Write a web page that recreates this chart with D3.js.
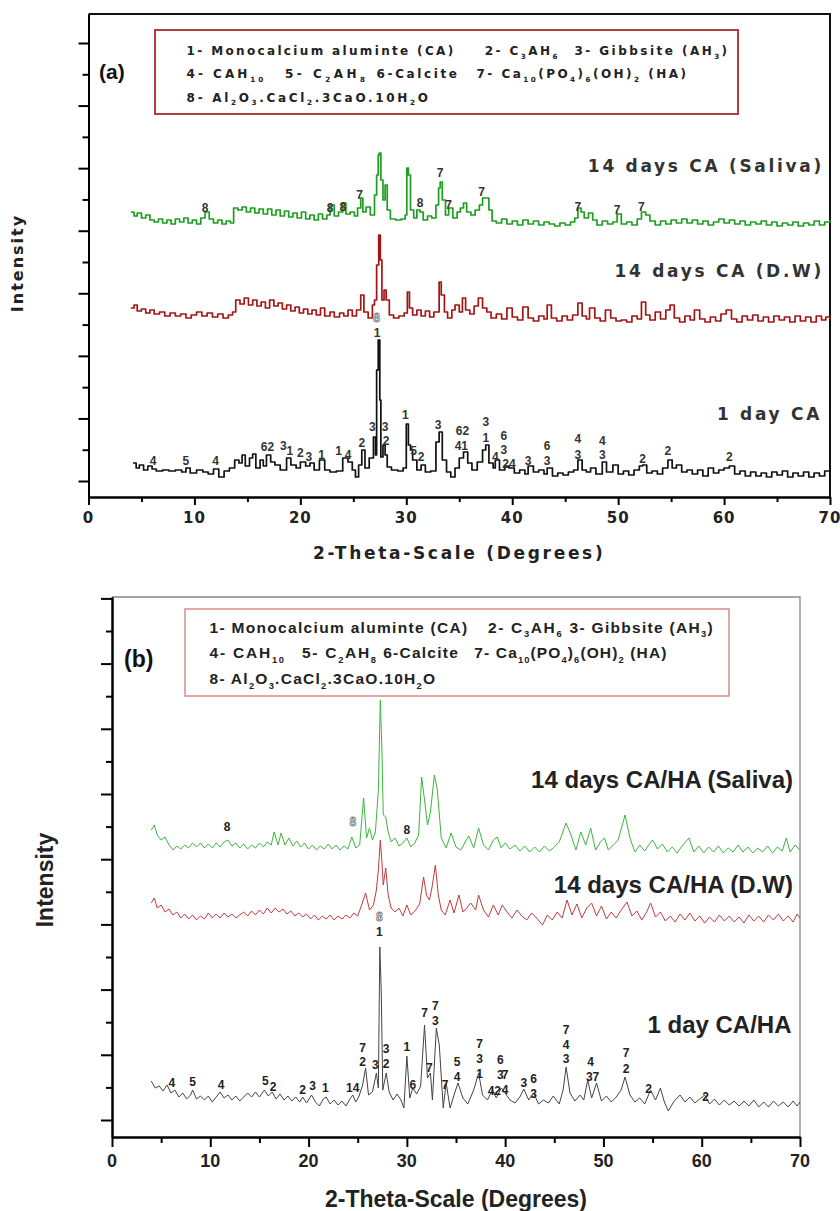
<!DOCTYPE html>
<html>
<head>
<meta charset="utf-8">
<script src="https://cdn.jsdelivr.net/npm/d3@7"></script>
<style>
  body { margin: 0; background: #fff; }
  svg { display: block; }
</style>
</head>
<body>
<svg id="chart" width="840" height="1211"></svg>
<script>
// ---- data: [2-theta (deg), intensity (a.u.)] ----

var TWO_THETA_TICKS = [0, 10, 20, 30, 40, 50, 60, 70];

var LEGEND_ITEMS = [
  ["1- Monocalcium aluminte (CA)", "2- C_{3}AH_{6}", "3- Gibbsite (AH_{3})"],
  ["4- CAH_{10}", "5- C_{2}AH_{8}", "6-Calcite", "7- Ca_{10}(PO_{4})_{6}(OH)_{2} (HA)"],
  ["8- Al_{2}O_{3}.CaCl_{2}.3CaO.10H_{2}O"]
];

var NAMES_A = ["1 day CA", "14 days CA (D.W)", "14 days CA (Saliva)"];
var NAMES_B = ["1 day CA/HA", "14 days CA/HA (D.W)", "14 days CA/HA (Saliva)"];

var CA_1DAY = [
  [4.2,180],[4.5,130],[4.8,160],[5.2,110],[5.6,150],[6.0,120],[6.4,100],[7.0,110],[7.6,100],[8.2,110],
  [8.8,90],[9.2,130],[9.6,80],[10.2,110],[10.8,90],[11.3,70],[11.8,120],[12.3,40],[12.8,100],[13.3,130],
  [13.8,210],[14.2,180],[14.5,260],[14.8,150],[15.2,230],[15.5,270],[15.8,130],[16.2,210],[16.5,150],[16.8,260],
  [17.2,190],[17.6,160],[18.1,110],[18.7,230],[19.1,160],[19.6,130],[20.0,190],[20.5,150],[20.9,180],[21.3,110],
  [21.8,210],[22.3,110],[22.8,90],[23.4,100],[24.0,230],[24.5,190],[24.9,110],[25.2,40],[25.5,160],[25.8,310],
  [26.1,130],[26.5,230],[26.9,440],[27.1,260],[27.2,1110],[27.35,1410],[27.5,810],[27.6,240],[27.8,360],[28.0,260],
  [28.2,140],[28.6,110],[29.2,100],[29.7,130],[30.0,570],[30.2,360],[30.4,310],[30.6,210],[31.0,110],[31.4,160],
  [31.8,90],[32.3,100],[32.8,390],[33.1,490],[33.4,210],[33.8,90],[34.2,40],[34.6,130],[35.0,230],[35.4,290],
  [35.8,180],[36.2,110],[36.7,190],[37.2,310],[37.5,360],[37.8,180],[38.2,130],[38.4,210],[38.8,110],[39.3,150],
  [39.7,130],[40.2,80],[40.7,110],[41.2,70],[41.5,150],[42.0,90],[42.5,110],[43.0,70],[43.3,130],[43.8,50],
  [44.3,80],[44.8,60],[45.3,90],[45.8,110],[46.2,210],[46.6,110],[47.0,90],[47.4,130],[47.9,70],[48.5,190],
  [48.9,90],[49.5,160],[50.0,70],[50.5,100],[51.0,60],[51.5,110],[52.0,150],[52.3,160],[52.7,80],[53.2,100],
  [53.7,70],[54.2,130],[54.7,210],[55.1,130],[55.5,160],[56.0,90],[56.5,110],[57.0,70],[57.5,110],[58.0,50],
  [58.5,130],[59.0,80],[59.5,110],[60.0,130],[60.5,150],[61.0,70],[61.5,100],[62.0,50],[62.5,90],[63.0,50],
  [63.5,80],[64.0,40],[64.5,90],[65.0,60],[65.5,100],[66.0,40],[66.5,80],[67.0,50],[67.5,90],[68.0,40],
  [68.5,80],[69.0,50],[69.5,100],[70.0,60]
];

var CA_14D_DW = [
  [4.0,230],[4.3,260],[4.6,200],[5.0,220],[5.4,180],[5.8,210],[6.2,170],[6.7,190],[7.2,150],[7.7,180],
  [8.2,150],[8.7,170],[9.2,130],[9.7,160],[10.2,190],[10.7,150],[11.2,180],[11.7,140],[12.2,170],[12.7,130],
  [13.2,160],[13.6,190],[13.9,310],[14.3,270],[14.7,330],[15.1,260],[15.5,310],[15.9,250],[16.3,290],[16.7,230],
  [17.1,310],[17.5,250],[17.9,280],[18.3,220],[18.7,260],[19.1,200],[19.5,240],[19.9,180],[20.3,220],[20.7,170],
  [21.1,210],[21.5,160],[21.9,230],[22.3,150],[22.8,190],[23.2,140],[23.7,180],[24.1,150],[24.5,210],[24.9,150],
  [25.3,210],[25.7,360],[26.0,190],[26.4,130],[26.8,260],[27.0,310],[27.2,660],[27.4,960],[27.55,710],[27.7,310],
  [27.9,410],[28.1,310],[28.4,160],[28.8,130],[29.3,150],[29.8,180],[30.1,390],[30.3,230],[30.6,160],[31.0,210],
  [31.4,150],[31.8,200],[32.2,140],[32.6,190],[33.1,490],[33.3,360],[33.6,190],[33.9,130],[34.3,210],[34.6,260],
  [35.0,190],[35.3,330],[35.6,210],[36.0,170],[36.4,250],[36.8,330],[37.2,230],[37.6,190],[38.0,130],[38.5,170],
  [39.0,120],[39.5,230],[40.0,140],[40.5,110],[41.0,240],[41.5,130],[42.0,100],[42.5,150],[43.0,120],[43.3,260],
  [43.7,130],[44.2,100],[44.7,150],[45.2,110],[45.7,160],[46.2,280],[46.6,150],[47.0,120],[47.3,230],[47.8,130],
  [48.3,100],[48.8,210],[49.3,130],[49.8,100],[50.3,110],[50.8,90],[51.3,150],[51.8,120],[52.2,290],[52.6,160],
  [53.0,110],[53.5,190],[54.0,120],[54.5,210],[54.9,260],[55.3,130],[55.8,90],[56.3,150],[56.8,110],[57.2,210],
  [57.7,120],[58.2,90],[58.7,140],[59.2,100],[59.7,170],[60.2,210],[60.7,120],[61.2,90],[61.7,150],[62.2,110],
  [62.7,160],[63.2,100],[63.7,140],[64.2,90],[64.7,150],[65.2,110],[65.7,140],[66.2,90],[66.7,150],[67.2,100],
  [67.7,140],[68.2,90],[68.7,150],[69.2,110],[69.6,140],[70.0,120]
];

var CA_14D_SALIVA = [
  [4.0,240],[4.3,200],[4.6,230],[5.0,180],[5.4,210],[5.8,160],[6.2,140],[6.6,170],[7.0,130],[7.4,160],
  [7.8,120],[8.2,170],[8.6,140],[9.0,180],[9.4,130],[9.8,160],[10.2,120],[10.6,180],[11.0,240],[11.4,170],
  [11.8,130],[12.2,160],[12.6,120],[13.0,150],[13.4,130],[13.7,280],[14.1,260],[14.5,290],[14.9,240],[15.3,280],
  [15.7,230],[16.1,270],[16.5,220],[16.9,270],[17.3,210],[17.7,260],[18.1,200],[18.5,250],[18.9,190],[19.3,230],
  [19.7,180],[20.1,240],[20.5,170],[20.9,210],[21.3,160],[21.7,220],[22.1,170],[22.5,210],[22.8,310],[23.2,200],
  [23.6,240],[24.0,330],[24.3,220],[24.7,240],[25.1,200],[25.4,280],[25.7,380],[25.9,240],[26.2,290],[26.6,210],
  [27.0,410],[27.2,610],[27.35,810],[27.45,830],[27.6,560],[27.8,360],[28.0,510],[28.2,260],[28.5,170],[29.0,160],
  [29.5,170],[29.9,210],[30.05,680],[30.2,610],[30.4,260],[30.7,180],[31.0,260],[31.3,240],[31.6,160],[32.0,200],
  [32.4,180],[32.8,310],[33.05,480],[33.2,540],[33.4,360],[33.7,210],[34.0,280],[34.4,180],[34.8,240],[35.1,280],
  [35.4,330],[35.7,240],[36.1,210],[36.5,260],[36.9,310],[37.2,380],[37.5,380],[37.8,260],[38.1,150],[38.5,130],
  [39.0,170],[39.5,120],[40.0,150],[40.5,110],[41.0,160],[41.5,120],[42.0,150],[42.5,110],[43.0,140],[43.5,120],
  [44.0,100],[44.5,130],[45.0,110],[45.5,140],[45.9,180],[46.2,280],[46.5,240],[46.8,180],[47.2,230],[47.6,160],
  [48.0,110],[48.5,150],[49.0,120],[49.5,140],[49.9,220],[50.3,120],[50.8,140],[51.3,110],[51.8,170],[52.2,240],
  [52.6,210],[53.0,150],[53.5,110],[54.0,150],[54.5,120],[55.0,160],[55.5,130],[56.0,170],[56.5,130],[57.0,160],
  [57.5,120],[58.0,150],[58.5,110],[59.0,140],[59.5,170],[60.0,130],[60.5,160],[61.0,120],[61.5,150],[62.0,110],
  [62.5,140],[63.0,120],[63.5,150],[64.0,110],[64.5,140],[65.0,100],[65.5,130],[66.0,110],[66.5,140],[67.0,100],
  [67.5,130],[68.0,110],[68.5,150],[69.0,110],[69.5,140],[70.0,160]
];

var CAHA_1DAY = [
  [4.0,390],[4.4,320],[4.8,340],[5.2,290],[5.6,350],[6.0,270],[6.4,300],[6.8,230],[7.2,270],[7.6,210],
  [8.0,250],[8.2,300],[8.6,210],[9.0,240],[9.4,200],[9.8,240],[10.2,180],[10.6,230],[11.0,280],[11.4,220],
  [11.8,250],[12.2,200],[12.6,240],[13.0,190],[13.4,230],[13.8,270],[14.2,230],[14.6,280],[15.0,230],[15.5,300],
  [15.9,240],[16.3,280],[16.7,210],[17.1,260],[17.5,200],[17.9,240],[18.3,190],[18.7,230],[19.1,180],[19.4,230],
  [19.8,170],[20.3,250],[20.7,180],[21.1,140],[21.5,210],[21.8,230],[22.2,160],[22.6,200],[23.0,150],[23.4,190],
  [23.8,140],[24.2,210],[24.5,250],[24.8,180],[25.1,230],[25.5,350],[25.8,520],[26.1,250],[26.5,280],[26.9,470],
  [27.1,320],[27.25,1730],[27.4,1270],[27.55,300],[27.9,470],[28.2,280],[28.6,200],[29.0,260],[29.4,200],[29.7,120],
  [30.0,640],[30.3,220],[30.6,320],[31.0,260],[31.4,340],[31.8,950],[32.1,420],[32.4,470],[32.6,200],[33.0,920],
  [33.3,750],[33.7,120],[34.0,370],[34.4,120],[34.8,250],[35.2,370],[35.7,220],[36.2,160],[36.8,300],[37.3,470],
  [37.7,250],[38.2,200],[38.7,300],[39.1,220],[39.6,320],[40.0,270],[40.5,200],[41.0,170],[41.5,230],[41.9,310],
  [42.4,200],[42.9,270],[43.4,160],[43.9,200],[44.4,170],[44.9,240],[45.5,160],[45.9,300],[46.2,530],[46.6,270],
  [47.1,190],[47.6,250],[48.0,200],[48.4,400],[48.8,220],[49.3,370],[49.8,190],[50.3,240],[50.8,180],[51.3,230],
  [51.8,300],[52.2,430],[52.7,250],[53.2,180],[53.7,220],[54.2,160],[54.8,300],[55.3,200],[55.8,320],[56.2,180],
  [56.6,90],[57.2,190],[57.8,250],[58.3,180],[58.8,230],[59.3,170],[59.8,210],[60.3,250],[60.8,160],[61.3,210],
  [61.8,150],[62.3,200],[62.8,150],[63.3,190],[63.8,140],[64.3,190],[64.8,140],[65.3,200],[65.8,130],[66.3,180],
  [66.8,130],[67.3,190],[67.8,140],[68.3,180],[68.8,130],[69.3,190],[69.7,140],[70.0,180]
];

var CAHA_14D_DW = [
  [4.0,470],[4.3,520],[4.6,420],[5.0,450],[5.4,380],[5.8,410],[6.2,350],[6.6,380],[7.0,320],[7.4,360],
  [7.8,310],[8.2,350],[8.6,300],[9.0,340],[9.4,310],[9.8,370],[10.2,320],[10.6,360],[11.0,320],[11.4,370],
  [11.8,330],[12.2,360],[12.6,320],[13.0,350],[13.4,380],[13.8,340],[14.2,390],[14.6,350],[15.0,400],[15.4,360],
  [15.8,420],[16.2,370],[16.6,420],[17.0,380],[17.4,410],[17.8,360],[18.2,390],[18.6,340],[19.0,370],[19.4,330],
  [19.8,360],[20.2,310],[20.6,350],[21.0,300],[21.4,340],[21.8,310],[22.2,350],[22.6,300],[23.0,340],[23.4,310],
  [23.8,350],[24.2,320],[24.6,370],[25.0,340],[25.4,450],[25.8,570],[26.2,400],[26.6,450],[26.9,600],[27.1,800],
  [27.3,1100],[27.45,900],[27.6,650],[27.85,820],[28.1,550],[28.4,420],[28.8,380],[29.2,420],[29.6,340],[30.0,450],
  [30.4,350],[30.9,400],[31.3,460],[31.7,730],[32.0,550],[32.3,500],[32.55,620],[32.9,850],[33.2,550],[33.5,400],
  [33.9,350],[34.4,500],[34.8,370],[35.3,550],[35.7,380],[36.1,420],[36.5,470],[37.0,400],[37.3,550],[37.8,400],
  [38.3,330],[38.8,450],[39.3,350],[39.7,450],[40.2,380],[40.7,320],[41.2,400],[41.7,340],[42.2,300],[42.7,370],
  [43.2,320],[43.8,250],[44.3,350],[44.8,300],[45.3,380],[45.8,320],[46.3,500],[46.8,350],[47.3,460],[47.8,320],
  [48.3,420],[48.8,470],[49.3,340],[49.8,440],[50.3,310],[50.8,380],[51.3,320],[51.8,400],[52.4,480],[52.9,340],
  [53.4,390],[53.9,300],[54.4,380],[54.8,470],[55.3,330],[55.8,380],[56.3,290],[56.8,340],[57.3,280],[57.8,360],
  [58.3,300],[58.8,370],[59.3,290],[59.8,340],[60.3,270],[60.8,330],[61.3,280],[61.8,350],[62.3,290],[62.8,340],
  [63.3,280],[63.8,330],[64.3,270],[64.8,350],[65.3,290],[65.8,340],[66.3,280],[66.8,350],[67.3,300],[67.8,360],
  [68.3,290],[68.8,340],[69.3,280],[69.7,360],[70.0,320]
];

var CAHA_14D_SALIVA = [
  [4.0,400],[4.3,450],[4.6,350],[5.0,300],[5.4,330],[5.8,250],[6.2,200],[6.6,240],[7.0,210],[7.4,250],
  [7.8,220],[8.2,270],[8.6,230],[9.0,270],[9.4,220],[9.8,260],[10.2,220],[10.6,270],[11.0,230],[11.4,280],
  [11.8,300],[12.2,240],[12.6,270],[13.0,220],[13.4,260],[13.8,210],[14.2,250],[14.6,220],[15.0,270],[15.4,230],
  [15.8,280],[16.2,250],[16.5,380],[16.9,250],[17.2,370],[17.6,250],[18.0,320],[18.4,240],[18.8,290],[19.2,230],
  [19.6,270],[20.0,210],[20.4,250],[20.8,200],[21.2,240],[21.6,210],[22.0,260],[22.4,210],[22.8,250],[23.2,200],
  [23.6,240],[24.0,210],[24.4,330],[24.8,220],[25.2,250],[25.6,720],[25.9,320],[26.2,420],[26.5,300],[26.8,380],
  [27.1,800],[27.3,1700],[27.45,1250],[27.6,550],[27.85,530],[28.1,380],[28.4,280],[28.8,320],[29.2,240],[29.6,270],
  [30.0,320],[30.4,230],[30.8,270],[31.2,350],[31.5,930],[31.8,700],[32.1,450],[32.4,580],[32.8,950],[33.1,800],
  [33.5,320],[34.0,220],[34.5,370],[35.0,230],[35.5,200],[36.0,290],[36.3,340],[36.8,220],[37.3,420],[37.8,250],
  [38.3,200],[38.8,300],[39.2,330],[39.6,220],[40.0,270],[40.5,210],[41.0,250],[41.5,190],[42.0,240],[42.5,180],
  [43.0,230],[43.5,180],[44.0,240],[44.5,190],[45.0,230],[45.5,280],[46.2,470],[46.7,350],[47.2,200],[47.7,380],
  [48.2,250],[48.7,420],[49.2,200],[49.7,280],[50.1,320],[50.5,200],[51.0,250],[51.5,300],[52.2,550],[52.7,320],
  [53.2,180],[53.7,250],[54.2,190],[54.6,250],[55.0,300],[55.5,210],[56.0,260],[56.5,180],[57.0,230],[57.5,170],
  [58.0,240],[58.7,320],[59.2,180],[59.7,240],[60.2,170],[60.7,230],[61.2,180],[61.7,240],[62.2,170],[62.7,220],
  [63.2,180],[63.7,250],[64.2,180],[64.7,230],[65.2,170],[65.7,220],[66.2,180],[66.7,240],[67.2,170],[67.7,230],
  [68.2,190],[68.6,320],[69.0,180],[69.5,250],[70.0,200]
];

// peak assignments: [2-theta, level (a.u.), phase numbers, style]
var PEAKS_CA_1DAY = [
  [6.1,200,"4"],[9.2,200,"5"],[12.0,200,"4"],[16.9,340,"62"],[18.4,350,"3"],[19.0,300,"1"],
  [20.0,280,"2"],[20.8,240,"3"],[22.0,260,"1"],[23.6,300,"1"],[24.5,260,"4"],[25.8,380,"2"],
  [26.8,540,"3"],[28.0,540,"3"],[28.1,400,"2"],[27.2,1630,"8","o"],[27.25,1480,"1"],[29.9,660,"1"],
  [30.7,300,"5"],[31.4,240,"2"],[33.0,560,"3"],[35.3,500,"62"],[35.2,350,"41"],
  [37.5,590,"3"],[37.5,430,"1"],[38.4,240,"4"],[39.2,450,"6"],[39.2,310,"3"],[39.7,170,"24"],
  [41.5,200,"3"],[43.3,350,"6"],[43.3,200,"3"],[46.2,420,"4"],[46.2,260,"3"],[48.5,400,"4"],
  [48.5,260,"3"],[52.3,220,"2"],[54.7,300,"2"],[60.5,240,"2"]
];
var PEAKS_CA_14D_SALIVA = [
  [11.0,280,"8"],[22.8,280,"8"],[24.0,290,"8"],[25.6,410,"7"],[31.3,330,"8"],[33.2,630,"7"],
  [34.0,310,"7"],[37.1,440,"7"],[46.2,290,"7"],[49.9,260,"7"],[52.2,290,"7"]
];
var PEAKS_CAHA_1DAY = [
  [6.1,370,"4"],[8.2,380,"5"],[11.1,350,"4"],[15.6,390,"5"],[16.4,330,"2"],[19.4,300,"2"],
  [20.4,340,"3"],[21.7,320,"1"],[24.5,320,"14"],[25.5,720,"7"],[25.5,580,"2"],[26.8,550,"3"],
  [27.9,710,"3"],[27.9,560,"2"],[27.2,2030,"8","o"],[27.2,1880,"1"],[30.0,730,"1"],[30.6,350,"6"],
  [31.8,1070,"7"],[32.9,1140,"7"],[32.9,990,"3"],[32.3,520,"7"],[33.9,350,"7"],[35.1,580,"5"],
  [35.1,430,"4"],[37.4,760,"7"],[37.4,610,"3"],[37.4,460,"1"],[38.9,290,"42"],[39.5,600,"6"],
  [39.5,450,"3"],[40.0,450,"7"],[40.0,300,"4"],[41.9,370,"3"],[42.9,410,"6"],[42.9,260,"3"],
  [46.2,900,"7"],[46.2,755,"4"],[46.2,610,"3"],[48.7,580,"4"],[48.9,430,"37"],[52.3,670,"7"],
  [52.3,515,"2"],[54.6,310,"2"],[60.4,230,"2"]
];
var PEAKS_CAHA_14D_SALIVA = [
  [11.7,430,"8"],[24.5,480,"8","o"],[30.0,400,"8"]
];

// ---- layout ----

var PANEL_A = {
  x0: 88.5, x1: 830, top: 14, bottom: 497,
  yDomain: [-160, 4670], yMajor: 625.7,
  axisWidth: 2, frameColor: "#111", frameWidth: 2,
  xTick: [8, 5], yTick: [10, 6],
  font: "'DejaVu Sans', sans-serif",
  tickFont: 15, tickSpacing: 1, tickBase: 523,
  title: "2-Theta-Scale (Degrees)", titleFont: 17, titleSpacing: 2.7, titleBase: 559,
  yTitleX: 17.5, yTitleY: 263, yTitleFont: 16, yTitleSpacing: 2,
  tag: "(a)", tagX: 99, tagY: 79, tagFont: 21,
  legendBox: [155, 30, 583, 84], legendStroke: "#a82a2a", legendWidth: 1.8,
  legendFont: 12, legendFamily: "'DejaVu Sans', sans-serif", legendBase: [55, 78, 101.5],
  legendX: [[[186.6,453.2],[484.7,557.4],[574.4,727.1]],
            [[186.6,263.2],[285,365],[376.6,457],[476.5,685.9]],
            [[186.6,428]]],
  nameFont: 17, nameSpacing: 2.7, nameColor: "#333",
  curve: d3.curveStepAfter, lineWidth: 1.7,
  peakFont: 12, peakColor: "#333",
  series: [
    {data: CA_1DAY, offset: 0, color: "#111", name: NAMES_A[0], nameX: 822, nameY: 420, peaks: PEAKS_CA_1DAY},
    {data: CA_14D_DW, offset: 1500, color: "#a31515", name: NAMES_A[1], nameX: 824, nameY: 277, peaks: []},
    {data: CA_14D_SALIVA, offset: 2450, color: "#1e9e1e", name: NAMES_A[2], nameX: 824, nameY: 172, peaks: PEAKS_CA_14D_SALIVA}
  ]
};

var PANEL_B = {
  x0: 112, x1: 800, top: 597, bottom: 1137,
  yDomain: [-170, 5230], yMajor: 652,
  axisWidth: 2, frameColor: "#888", frameWidth: 1.3,
  xTick: [10, 6], yTick: [11, 6],
  font: "'Liberation Sans', Arial, sans-serif",
  tickFont: 18, tickSpacing: 0, tickBase: 1166.5,
  title: "2-Theta-Scale (Degrees)", titleFont: 23, titleSpacing: 0, titleBase: 1207,
  yTitleX: 45, yTitleY: 880, yTitleFont: 23, yTitleSpacing: 0,
  tag: "(b)", tagX: 124, tagY: 667, tagFont: 23,
  legendBox: [185, 609, 544, 87], legendStroke: "#d98a8a", legendWidth: 1.5,
  legendFont: 15.5, legendFamily: "'Liberation Sans', Arial, sans-serif", legendBase: [632.7, 658.3, 684],
  legendX: [[[209.5,467.2],[488,561.6],[569.6,712.7]],
            [[209.5,284],[302,376],[383.2,457.8],[474.3,666.4]],
            [[209.5,435]]],
  nameFont: 24, nameSpacing: 0, nameColor: "#222",
  curve: d3.curveLinear, lineWidth: 1,
  peakFont: 12, peakColor: "#222",
  series: [
    {data: CAHA_1DAY, offset: 0, color: "#444", name: NAMES_B[0], nameX: 791.5, nameY: 1033, peaks: PEAKS_CAHA_1DAY},
    {data: CAHA_14D_DW, offset: 1700, color: "#c23b3b", name: NAMES_B[1], nameX: 793, nameY: 893, peaks: []},
    {data: CAHA_14D_SALIVA, offset: 2500, color: "#3db53d", name: NAMES_B[2], nameX: 793, nameY: 788, peaks: PEAKS_CAHA_14D_SALIVA}
  ]
};

document.addEventListener("DOMContentLoaded", function() {
  var svg = d3.select("#chart");
  drawPanel(svg, PANEL_A);
  drawPanel(svg, PANEL_B);
});

// text with "_{..}" parts written as subscripts
function richText(sel, str, size) {
  var parts = str.split(/_\{([^}]*)\}/);
  var shift = size * 0.3;
  var down = false;
  parts.forEach(function(p, i) {
    if (p === "") return;
    var isSub = i % 2 === 1;
    var t = sel.append("tspan").text(p);
    if (isSub) {
      t.attr("font-size", size * 0.6);
      if (!down) { t.attr("dy", shift); down = true; }
    } else if (down) {
      t.attr("dy", -shift);
      down = false;
    }
  });
}

function drawPanel(svg, p) {
  var g = svg.append("g").attr("font-family", p.font).attr("font-weight", "bold");

  var x = d3.scaleLinear().domain([0, 70]).range([p.x0, p.x1]);
  var y = d3.scaleLinear().domain(p.yDomain).range([p.bottom, p.top]);

  // frame top and right
  g.append("path")
    .attr("d", "M" + p.x0 + "," + p.top + "H" + p.x1 + "V" + p.bottom)
    .attr("fill", "none")
    .attr("stroke", p.frameColor)
    .attr("stroke-width", p.frameWidth);

  // x axis, major + minor ticks
  g.append("g")
    .attr("transform", "translate(0," + p.bottom + ")")
    .attr("stroke-width", p.axisWidth)
    .call(d3.axisBottom(x).tickValues(d3.range(5, 70, 10)).tickSize(p.xTick[1]).tickSizeOuter(0).tickFormat(""));
  g.append("g")
    .attr("transform", "translate(0," + p.bottom + ")")
    .attr("stroke-width", p.axisWidth)
    .call(d3.axisBottom(x).tickValues(TWO_THETA_TICKS).tickSize(p.xTick[0]).tickSizeOuter(0).tickFormat(""));

  g.selectAll(".xlab")
    .data(TWO_THETA_TICKS)
    .enter()
      .append("text")
      .attr("x", (d) => (x(d)))
      .attr("y", p.tickBase)
      .attr("text-anchor", "middle")
      .attr("font-size", p.tickFont)
      .attr("letter-spacing", p.tickSpacing)
      .attr("fill", "#222")
      .text((d) => (d));

  // y axis (intensity, no labels)
  var majors = d3.range(0, p.yDomain[1], p.yMajor);
  var minors = d3.range(p.yMajor / 2, p.yDomain[1], p.yMajor);
  g.append("g")
    .attr("transform", "translate(" + p.x0 + ",0)")
    .attr("stroke-width", p.axisWidth)
    .call(d3.axisLeft(y).tickValues(minors).tickSize(p.yTick[1]).tickSizeOuter(0).tickFormat(""));
  g.append("g")
    .attr("transform", "translate(" + p.x0 + ",0)")
    .attr("stroke-width", p.axisWidth)
    .call(d3.axisLeft(y).tickValues(majors).tickSize(p.yTick[0]).tickSizeOuter(0).tickFormat(""));

  g.append("text")
    .attr("x", (p.x0 + p.x1) / 2)
    .attr("y", p.titleBase)
    .attr("text-anchor", "middle")
    .attr("font-size", p.titleFont)
    .attr("letter-spacing", p.titleSpacing)
    .attr("fill", "#222")
    .text(p.title);

  g.append("text")
    .attr("transform", "translate(" + p.yTitleX + "," + p.yTitleY + ") rotate(-90)")
    .attr("text-anchor", "middle")
    .attr("dominant-baseline", "central")
    .attr("font-size", p.yTitleFont)
    .attr("letter-spacing", p.yTitleSpacing)
    .attr("fill", "#222")
    .text("Intensity");

  // patterns
  var line = d3.line()
    .x((d) => (x(d[0])))
    .curve(p.curve);

  p.series.forEach(function(s) {
    g.append("path")
      .datum(s.data)
      .attr("fill", "none")
      .attr("stroke", s.color)
      .attr("stroke-width", p.lineWidth)
      .attr("stroke-linejoin", "round")
      .attr("d", line.y((d) => (y(d[1] + s.offset))));

    g.selectAll(null)
      .data(s.peaks)
      .enter()
        .append("text")
        .attr("x", (d) => (x(d[0])))
        .attr("y", (d) => (y(d[1] + s.offset)))
        .attr("dy", "0.35em")
        .attr("text-anchor", "middle")
        .attr("font-family", "'Liberation Sans', Arial, sans-serif")
        .attr("font-size", p.peakFont)
        .attr("fill", (d) => (d[3] === "o" ? "#fff" : p.peakColor))
        .attr("stroke", (d) => (d[3] === "o" ? "#777" : "none"))
        .attr("stroke-width", 0.8)
        .text((d) => (d[2]));

    g.append("text")
      .attr("x", s.nameX)
      .attr("y", s.nameY)
      .attr("text-anchor", "end")
      .attr("font-size", p.nameFont)
      .attr("letter-spacing", p.nameSpacing)
      .attr("fill", p.nameColor)
      .text(s.name);
  });

  // legend of phases
  var b = p.legendBox;
  g.append("rect")
    .attr("x", b[0]).attr("y", b[1])
    .attr("width", b[2]).attr("height", b[3])
    .attr("fill", "#fff")
    .attr("stroke", p.legendStroke)
    .attr("stroke-width", p.legendWidth);

  LEGEND_ITEMS.forEach(function(row, r) {
    row.forEach(function(item, i) {
      var pos = p.legendX[r][i];
      var t = g.append("text")
        .attr("x", pos[0])
        .attr("y", p.legendBase[r])
        .attr("font-family", p.legendFamily)
        .attr("font-size", p.legendFont)
        .attr("fill", "#222")
        .attr("textLength", pos[1] - pos[0])
        .attr("lengthAdjust", "spacing");
      richText(t, item, p.legendFont);
    });
  });

  g.append("text")
    .attr("x", p.tagX)
    .attr("y", p.tagY)
    .attr("font-family", "'Liberation Sans', Arial, sans-serif")
    .attr("font-size", p.tagFont)
    .attr("fill", "#111")
    .text(p.tag);
}
</script>
</body>
</html>
